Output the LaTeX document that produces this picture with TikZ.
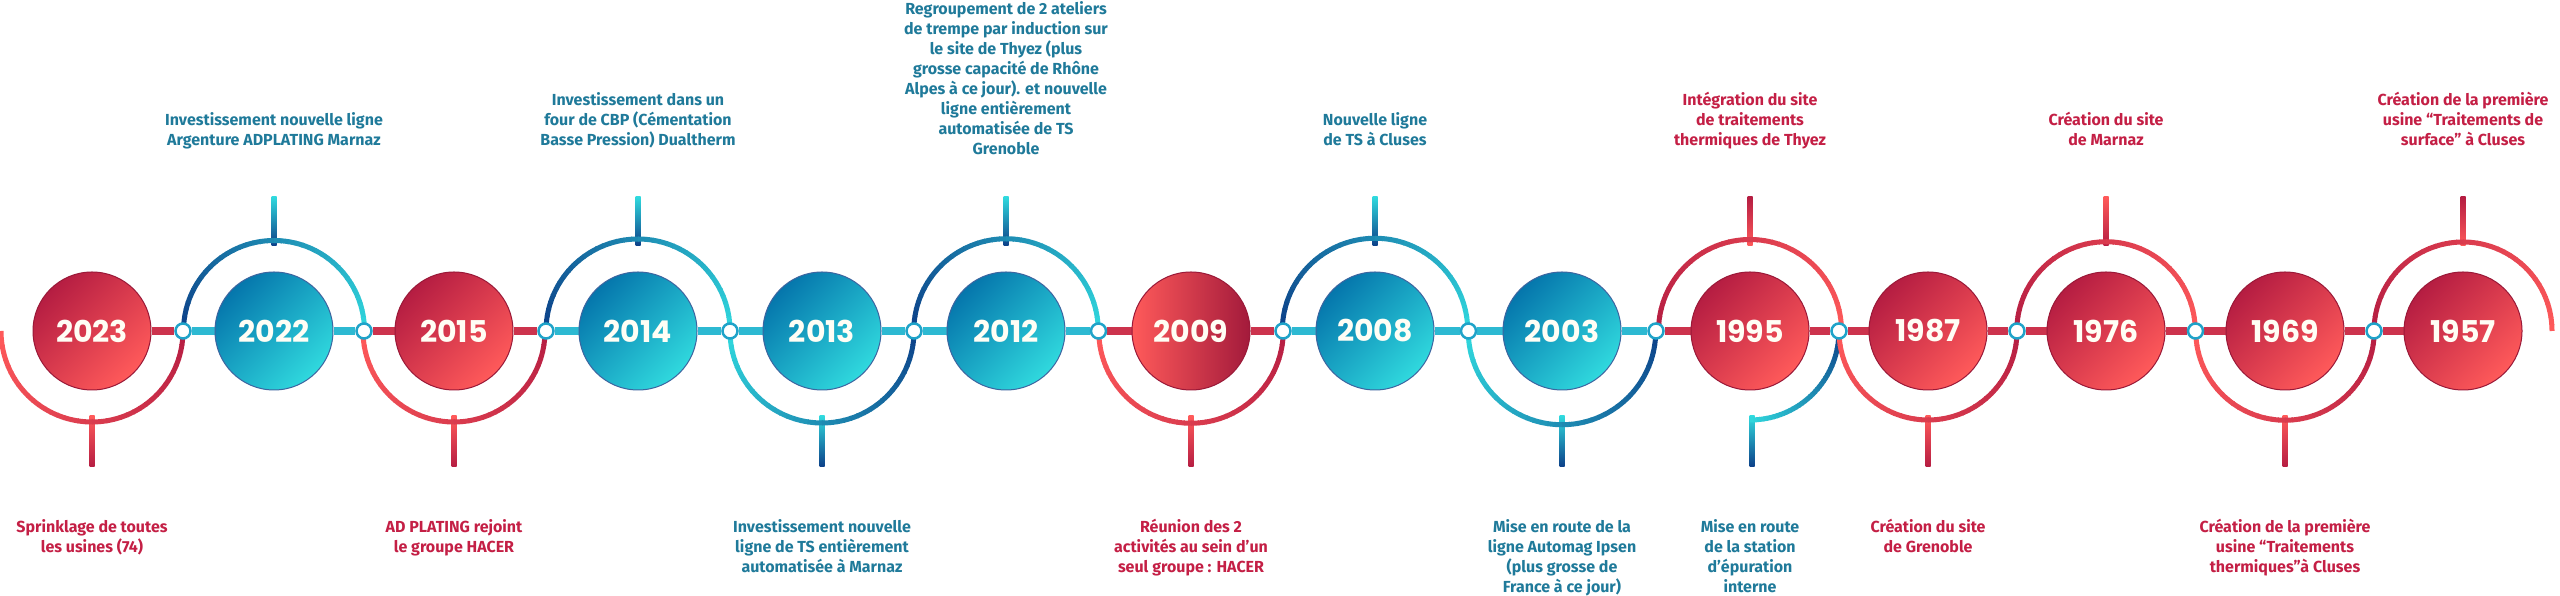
\documentclass[tikz,border=0pt]{standalone}
\usepackage{fontspec}
\setmainfont{Fira Sans}
\newfontfamily\yearfont{Poppins}
\usetikzlibrary{calc}
\pgfdeclarelayer{bg}
\pgfsetlayers{bg,main}
\definecolor{crim}{HTML}{B51D42}
\definecolor{coral}{HTML}{FF5A5A}
\definecolor{tdark}{HTML}{0576AC}
\definecolor{tlight}{HTML}{30D9DE}
\definecolor{dblue}{HTML}{0C3F88}
\definecolor{txtteal}{HTML}{1F7A9A}
\definecolor{txtred}{HTML}{C41F45}
\definecolor{dotring}{HTML}{1FA3C9}
\definecolor{segred}{HTML}{CC334D}
\definecolor{segteal}{HTML}{2DB9D2}

\newcommand{\gradarc}[7]{%
  \foreach \k in {1,...,40}{%
    \pgfmathsetmacro{\arcA}{#4+(#5-#4)*(\k-1)/40}%
    \pgfmathsetmacro{\arcB}{#4+(#5-#4)*\k/40+(\k<40)*0.6*sign(#5-#4)}%
    \pgfmathtruncatemacro{\arcP}{100*(\k-0.5)/40}%
    \draw[arcline, draw={#7!\arcP!#6}] ($(#1,#2)+(\arcA:#3)$) arc[start angle=\arcA, end angle=\arcB, radius=#3];
  }%
}

\tikzset{
  yr/.style={circle, minimum size=118pt, inner sep=0pt, text=white!96!yellow, font=\yearfont\bfseries\fontsize{30}{30}\selectfont},
  yrred/.style={yr, left color=crim, right color=coral, shading angle=45, draw=crim!85!black, line width=1pt},
  yrredh/.style={yr, left color=coral, right color=crim!90!black, draw=crim!85!black, line width=1pt},
  yrteal/.style={yr, left color=tdark, right color=tlight, shading angle=45, draw=dblue!80, line width=1pt},
  dotn/.style={circle, minimum size=15pt, inner sep=0pt, fill=white, draw=dotring, line width=2.5pt},
  seg/.style={line width=7.5pt},
  arcline/.style={line width=5pt},
  lbl/.style={align=center, inner sep=0pt, font=\bfseries\fontsize{16}{20}\selectfont},
  lblT/.style={lbl, text=txtteal},
  lblR/.style={lbl, text=txtred},
}

\newcommand{\stemup}[3]{\shade[top color=#2, bottom color=#3] (#1-2.5,350) rectangle (#1+2.5,399);}
\newcommand{\stemdown}[3]{\shade[top color=#2, bottom color=#3] (#1-2.5,129) rectangle (#1+2.5,180);}

\begin{document}
\begin{tikzpicture}[x=1pt,y=1pt]
\useasboundingbox (0,0) rectangle (2560,596);

% year circles
\node[yrred]  (c1)  at (92,265)   {2023};
\node[yrteal] (c2)  at (274,265)  {2022};
\node[yrred]  (c3)  at (454,265)  {2015};
\node[yrteal] (c4)  at (638,265)  {2014};
\node[yrteal] (c5)  at (822,265)  {2013};
\node[yrteal] (c6)  at (1006,265) {2012};
\node[yrredh] (c7)  at (1191,265) {2009};
\node[yrteal] (c8)  at (1375,265) {2008};
\node[yrteal] (c9)  at (1562,265) {2003};
\node[yrred]  (c10) at (1750,265) {1995};
\node[yrred]  (c11) at (1928,265) {1987};
\node[yrred]  (c12) at (2106,265) {1976};
\node[yrred]  (c13) at (2285,265) {1969};
\node[yrred]  (c14) at (2463,265) {1957};

% connector dots
\foreach \a/\b [count=\i] in {c1/c2,c2/c3,c3/c4,c4/c5,c5/c6,c6/c7,c7/c8,c8/c9,c9/c10,c10/c11,c11/c12,c12/c13,c13/c14}
  \node[dotn] (d\i) at ($(\a)!0.5!(\b)$) {};

\begin{pgfonlayer}{bg}
\fill[white] (0,0) rectangle (2560,596);
% horizontal segments
\draw[seg, segred]  (c1) -- (d1);  \draw[seg, segteal] (d1) -- (c2);
\draw[seg, segteal] (c2) -- (d2);  \draw[seg, segred]  (d2) -- (c3);
\draw[seg, segred]  (c3) -- (d3);  \draw[seg, segteal] (d3) -- (c4);
\draw[seg, segteal] (c4) -- (d4);  \draw[seg, segteal] (d4) -- (c5);
\draw[seg, segteal] (c5) -- (d5);  \draw[seg, segteal] (d5) -- (c6);
\draw[seg, segteal] (c6) -- (d6);  \draw[seg, segred]  (d6) -- (c7);
\draw[seg, segred]  (c7) -- (d7);  \draw[seg, segteal] (d7) -- (c8);
\draw[seg, segteal] (c8) -- (d8);  \draw[seg, segteal] (d8) -- (c9);
\draw[seg, segteal] (c9) -- (d9);  \draw[seg, segred]  (d9) -- (c10);
\draw[seg, segred]  (c10) -- (d10); \draw[seg, segred] (d10) -- (c11);
\draw[seg, segred]  (c11) -- (d11); \draw[seg, segred] (d11) -- (c12);
\draw[seg, segred]  (c12) -- (d12); \draw[seg, segred] (d12) -- (c13);
\draw[seg, segred]  (c13) -- (d13); \draw[seg, segred] (d13) -- (c14);

% stems
\stemup{274}{tlight}{dblue}
\stemup{638}{tlight}{dblue}
\stemup{1006}{tlight}{dblue}
\stemup{1375}{tlight}{dblue}
\stemup{1750}{crim}{coral}
\stemup{2106}{coral}{crim}
\stemup{2463}{crim}{coral}
\stemdown{92}{coral}{crim}
\stemdown{454}{coral}{crim}
\stemdown{822}{tlight}{dblue}
\stemdown{1191}{coral}{crim}
\stemdown{1562}{tlight}{dblue}
\stemdown{1752}{tlight}{dblue}
\stemdown{1928}{coral}{crim}
\stemdown{2285}{coral}{crim}

% arcs
\gradarc{92}{265}{91}{180}{360}{coral}{crim}
\gradarc{274}{265}{90.5}{180}{0}{dblue}{tlight}
\gradarc{454}{265}{91}{180}{360}{coral}{crim}
\gradarc{638}{265}{92}{180}{0}{dblue}{tlight}
\gradarc{822}{265}{92}{180}{360}{tlight}{dblue}
\gradarc{1006}{265}{92.25}{180}{0}{dblue}{tlight}
\gradarc{1191}{265}{92.25}{180}{360}{coral}{crim}
\gradarc{1375}{265}{92.75}{180}{0}{dblue}{tlight}
\gradarc{1562}{265}{93.75}{180}{360}{tlight}{dblue}
\gradarc{1750}{265}{91.5}{180}{0}{crim}{coral}
\gradarc{1750}{265}{89}{0}{-90}{dblue}{tlight}
\gradarc{1928}{265}{89}{180}{360}{coral}{crim}
\gradarc{2106}{265}{89.25}{180}{0}{crim}{coral}
\gradarc{2285}{265}{89.25}{180}{360}{coral}{crim}
\gradarc{2463}{265}{89}{180}{0}{crim}{coral}
\end{pgfonlayer}

% top labels
\node[lblT, anchor=south] (t2) at (274,444) {Investissement nouvelle ligne\\Argenture ADPLATING Marnaz\strut};
\node[lblT, anchor=south] (t4) at (638,444) {Investissement dans un\\four de CBP (Cémentation\\Basse Pression) Dualtherm\strut};
\node[lblT, anchor=south] (t6) at (1006,435) {Regroupement de 2 ateliers\\de trempe par induction sur\\le site de Thyez (plus\\grosse capacité de Rhône\\Alpes à ce jour). et nouvelle\\ligne entièrement\\automatisée de TS\\Grenoble\strut};
\node[lblT, anchor=south] (t8) at (1375,444) {Nouvelle ligne\\de TS à Cluses\strut};
\node[lblR, anchor=south] (t10) at (1750,444) {Intégration du site\\de traitements\\thermiques de Thyez\strut};
\node[lblR, anchor=south] (t12) at (2106,444) {Création du site\\de Marnaz\strut};
\node[lblR, anchor=south] (t14) at (2463,444) {Création de la première\\usine “Traitements de\\surface” à Cluses\strut};

% bottom labels
\node[lblR, anchor=north] (b1) at (92,78) {\strut Sprinklage de toutes\\les usines (74)};
\node[lblR, anchor=north] (b3) at (454,78) {\strut AD PLATING rejoint\\le groupe HACER};
\node[lblT, anchor=north] (b5) at (822,78) {\strut Investissement nouvelle\\ligne de TS entièrement\\automatisée  à Marnaz};
\node[lblR, anchor=north] (b7) at (1191,78) {\strut Réunion des 2\\activités au sein d'un\\seul groupe : HACER};
\node[lblT, anchor=north] (b9) at (1562,78) {\strut Mise en route de la\\ligne Automag Ipsen\\(plus grosse de\\France à ce jour)};
\node[lblT, anchor=north] (b10) at (1750,78) {\strut Mise en route\\de la station\\d'épuration\\interne};
\node[lblR, anchor=north] (b11) at (1928,78) {\strut Création du site\\de Grenoble};
\node[lblR, anchor=north] (b13) at (2285,78) {\strut Création de la première\\usine “Traitements\\thermiques”à Cluses};
\end{tikzpicture}
\end{document}
